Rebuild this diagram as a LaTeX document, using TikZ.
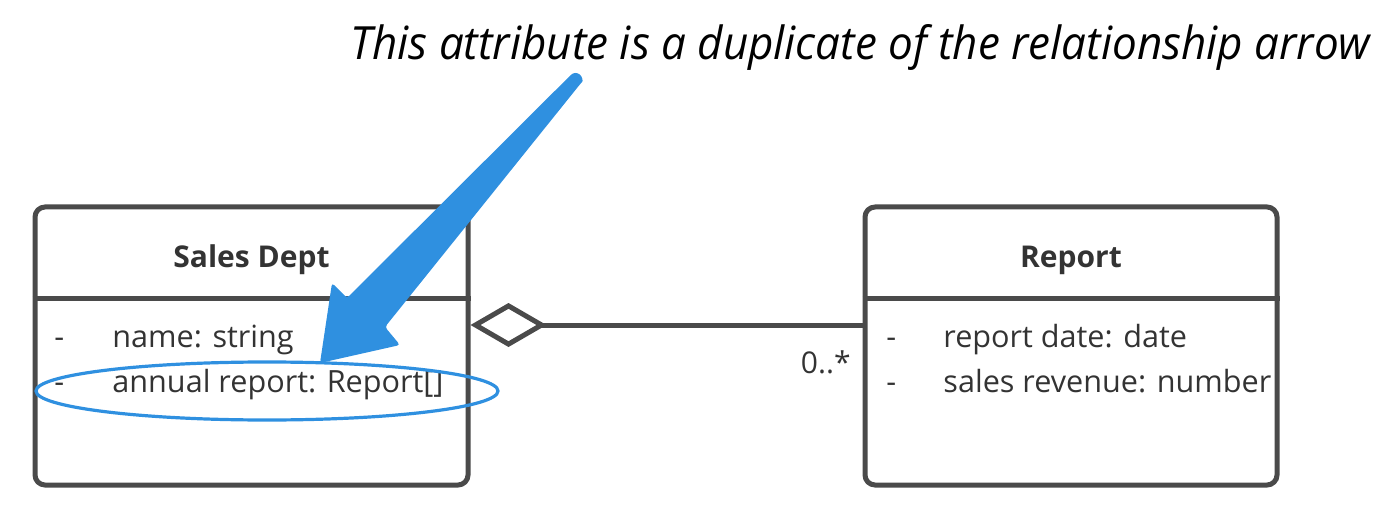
\documentclass[tikz,border=0pt]{standalone}
\usepackage{fontspec}
\setmainfont{Open Sans}
\usetikzlibrary{arrows.meta}
\definecolor{umlgray}{HTML}{4A4A4A}
\definecolor{txtgray}{HTML}{333333}
\definecolor{noteblue}{HTML}{2F90E0}
\tikzset{
  umlbox/.style={draw=umlgray, line width=2.5pt, rounded corners=5pt, fill=none,
    minimum height=139pt, inner sep=0pt},
  sep/.style={draw=umlgray, line width=2.5pt},
  title/.style={font=\fontsize{15}{17}\selectfont\bfseries, text=txtgray, inner sep=0pt},
  attr/.style={font=\fontsize{15.3}{17}\selectfont, text=txtgray, inner sep=0pt, anchor=base west},
  assoc/.style={draw=umlgray, line width=2.5pt,
    -{Diamond[open, length=38pt, width=22pt, fill=white]}},
}
\begin{document}
\begin{tikzpicture}[x=0.5pt, y=-0.5pt]
\useasboundingbox (0,0) rectangle (1400,507);
% class boxes
\node[umlbox, minimum width=216.5pt] (sales) at (251.5,346) {};
\node[umlbox, minimum width=206pt] (report) at (1071,346) {};
\draw[sep] (sales.west |- 0,299) -- (sales.east |- 0,299);
\draw[sep] (report.west |- 0,299) -- (report.east |- 0,299);
% titles
\node[title] (salest) at (251.5,260) {Sales Dept};
\node[title] (reportt) at (1071,260) {Report};
% attributes
\node[attr] (sd1) at (54,347) {-};
\node[attr] (sa1) at (112,347) {name: string};
\node[attr] (sd2) at (54,392) {-};
\node[attr] (sa2) at (112,392) {annual report: Report[]};
\node[attr] (rd1) at (886,347) {-};
\node[attr] (ra1) at (943,347) {report date: date};
\node[attr] (rd2) at (886,392) {-};
\node[attr] (ra2) at (943,392) {sales revenue: number};
% association
\coordinate (aggS) at (sales.east |- 0,325);
\coordinate (aggR) at (report.west |- 0,325);
\draw[assoc] (aggR) -- (aggS);
\node[font=\fontsize{15}{17}\selectfont, text=txtgray, anchor=base east, inner sep=0pt] (mult) at (851,373) {0..*};
% annotation
\draw[noteblue, line width=1.6pt] (267,391) ellipse [x radius=231, y radius=29];
\fill[noteblue, rounded corners=1.5pt]
  (570.6,75.2) -- (347,298) -- (332,283) -- (320,363) -- (400,345) -- (385,327) -- (580.4,83.8)
  [sharp corners] arc[start angle=41.8, end angle=-138.2, radius=6.5] -- cycle;
\node[anchor=base west, inner sep=0pt] (note) at (350,60)
  {\resizebox{510pt}{17.5pt}{\itshape This attribute is a duplicate of the relationship arrow}};
\end{tikzpicture}
\end{document}
